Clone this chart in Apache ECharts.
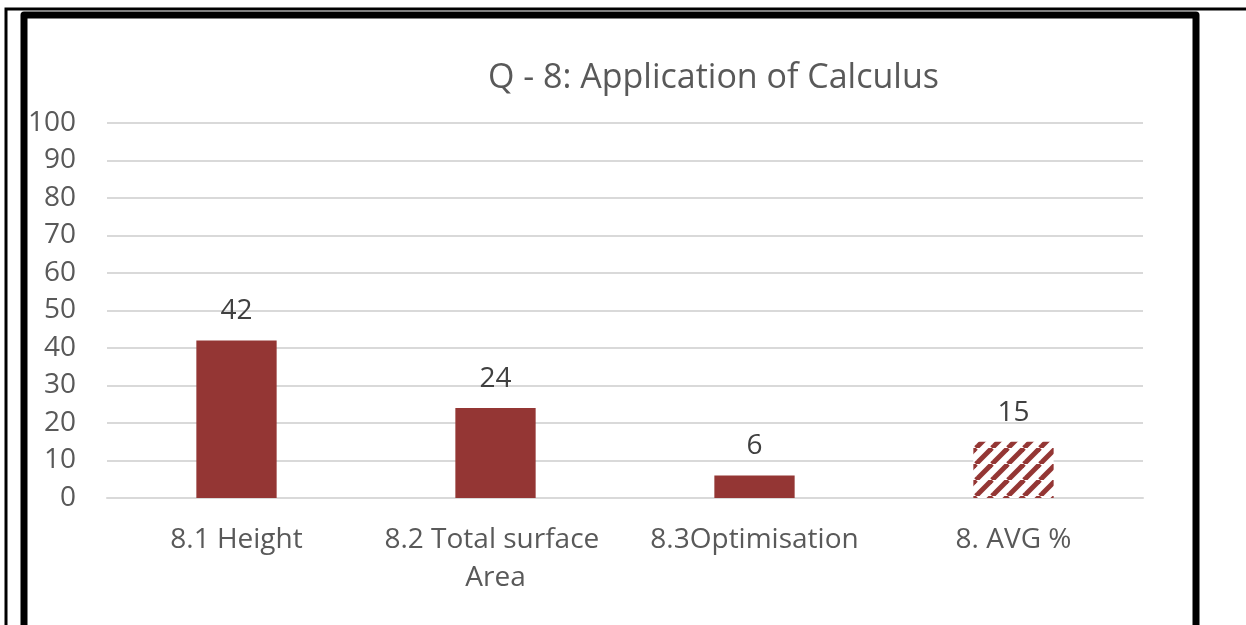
<!DOCTYPE html>
<html>
<head>
<meta charset="utf-8">
<script src="https://cdn.jsdelivr.net/npm/echarts@6/dist/echarts.min.js"></script>
<style>
  html, body { margin: 0; padding: 0; background: #fff; }
  #chart { width: 1246px; height: 625px; }
</style>
</head>
<body>
<div id="chart"></div>
<script>
// Chart content
const titleText = 'Q - 8: Application of Calculus';
const categories = ['8.1 Height', '8.2 Total surface Area', '8.3Optimisation', '8. AVG %'];
const scores = [42, 24, 6, 15];
const hatchedIndex = 3; // the average bar is drawn with a striped fill
const yTicks = { min: 0, max: 100, interval: 10 };

const barColor = '#943634';
const FONT = '"Open Sans", "Noto Sans", sans-serif';

// Diagonal stripe tile for the average bar
function stripePattern() {
  const size = 16;
  const c = document.createElement('canvas');
  c.width = size; c.height = size;
  const ctx = c.getContext('2d');
  ctx.fillStyle = '#ffffff';
  ctx.fillRect(0, 0, size, size);
  ctx.strokeStyle = barColor;
  ctx.lineWidth = 5;
  for (const k of [-size, 0, size]) {
    ctx.beginPath();
    ctx.moveTo(k, size);
    ctx.lineTo(k + size, 0);
    ctx.stroke();
  }
  return { image: c, repeat: 'repeat' };
}

const pattern = stripePattern();
const barData = scores.map((v, i) => ({
  value: v,
  itemStyle: { color: i === hatchedIndex ? pattern : barColor }
}));

const chart = echarts.init(document.getElementById('chart'), null, { renderer: 'canvas' });
chart.setOption({
  animation: false,
  backgroundColor: '#ffffff',
  title: {
    text: titleText,
    left: 483,
    top: 56,
    textStyle: { fontFamily: FONT, fontSize: 34, fontWeight: 'normal', color: '#595959' }
  },
  grid: { left: 107, right: 103, top: 123, bottom: 127, containLabel: false },
  xAxis: {
    type: 'category',
    data: categories,
    axisLine: { show: true, lineStyle: { color: '#d9d9d9', width: 2 } },
    axisTick: { show: false },
    axisLabel: {
      interval: 0,
      margin: 23,
      width: 240,
      overflow: 'break',
      lineHeight: 38,
      fontFamily: FONT,
      fontSize: 28,
      color: '#595959'
    }
  },
  yAxis: {
    type: 'value',
    min: yTicks.min,
    max: yTicks.max,
    interval: yTicks.interval,
    axisLine: { show: false },
    axisTick: { show: false },
    splitLine: { lineStyle: { color: '#d9d9d9', width: 2 } },
    axisLabel: { margin: 31, fontFamily: FONT, fontSize: 28, color: '#595959' }
  },
  series: [{
    type: 'bar',
    data: barData,
    barWidth: '31%',
    label: {
      show: true,
      position: 'top',
      distance: 15,
      fontFamily: FONT,
      fontSize: 28,
      color: '#404040'
    }
  }],
  graphic: [
    {
      type: 'polyline',
      silent: true,
      shape: { points: [[6, 625], [6, 9], [1246, 9]] },
      style: { stroke: '#000', lineWidth: 3, fill: null }
    },
    {
      type: 'polyline',
      silent: true,
      shape: { points: [[24, 625], [24, 15], [1196, 15], [1196, 625]] },
      style: { stroke: '#000', lineWidth: 7, lineJoin: 'round', fill: null }
    }
  ]
});
</script>
</body>
</html>
